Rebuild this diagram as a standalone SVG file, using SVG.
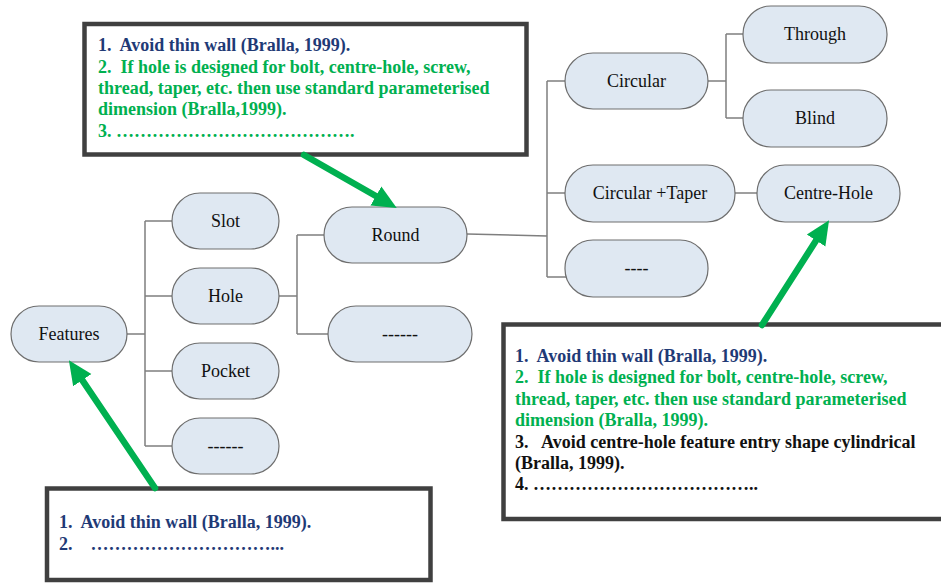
<svg xmlns="http://www.w3.org/2000/svg" width="941" height="583" viewBox="0 0 941 583">
  <defs>
    <style>
      .node rect { fill: #DFE8F2; stroke: #6E6E6E; stroke-width: 1.2; }
      .node text { font-family: "Liberation Serif", "Times New Roman", serif; font-size: 18px; fill: #111; text-anchor: middle; white-space: pre; }
      .conn { fill: none; stroke: #7F7F7F; stroke-width: 1.5; }
      .box { fill: #FFFFFF; stroke: #404040; stroke-width: 4.5; }
      .note { font-family: "Liberation Serif", "Times New Roman", serif; font-size: 18px; font-weight: bold; white-space: pre; }
      .navy { fill: #1F3A76; }
      .green { fill: #00B050; }
      .black { fill: #111111; }
      .arrow { fill: none; stroke: #00B050; stroke-width: 6.5; stroke-linecap: round; }
    </style>
    <marker id="head" markerUnits="userSpaceOnUse" markerWidth="24" markerHeight="24" viewBox="0 0 24 24" refX="10" refY="12" orient="auto">
      <path d="M0,1 L24,12 L0,23 Z" fill="#00B050"/>
    </marker>
  </defs>

  <!-- tree connectors -->
  <g id="connectors">
    <path class="conn" d="M127,334 H145 M145,221 V446 M145,221 H172 M145,296 H172 M145,371 H172 M145,446 H172"/>
    <path class="conn" d="M279,296 H297 M297,235 V334 M297,235 H324 M297,334 H328"/>
    <path class="conn" d="M467,234 L547,236 M547,81 V277 M547,81 H565 M547,193 H565 M547,277 H570"/>
    <path class="conn" d="M708,81 H726 M726,34 V118 M726,34 H743 M726,118 H743"/>
    <path class="conn" d="M735,193 H757"/>
  </g>

  <!-- feature nodes -->
  <g id="features" class="node"><rect x="11" y="306" width="116" height="56" rx="28"/><text x="69" y="340">Features</text></g>
  <g id="slot" class="node"><rect x="172" y="193" width="107" height="56" rx="28"/><text x="225.5" y="227">Slot</text></g>
  <g id="hole" class="node"><rect x="172" y="268" width="107" height="56" rx="28"/><text x="225.5" y="302">Hole</text></g>
  <g id="pocket" class="node"><rect x="172" y="343" width="107" height="56" rx="28"/><text x="225.5" y="377">Pocket</text></g>
  <g id="feature-other" class="node"><rect x="172" y="418" width="107" height="56" rx="28"/><text x="225.5" y="452">------</text></g>
  <g id="round" class="node"><rect x="324" y="207" width="143" height="56" rx="28"/><text x="395.5" y="241">Round</text></g>
  <g id="hole-other" class="node"><rect x="328" y="306" width="144" height="56" rx="28"/><text x="400" y="340">------</text></g>
  <g id="circular" class="node"><rect x="565" y="53" width="143" height="56" rx="28"/><text x="636.5" y="87">Circular</text></g>
  <g id="circular-taper" class="node"><rect x="565" y="165" width="170" height="57" rx="28"/><text x="650" y="199">Circular +Taper</text></g>
  <g id="round-other" class="node"><rect x="565" y="240" width="143" height="57" rx="28"/><text x="636.5" y="274">----</text></g>
  <g id="through" class="node"><rect x="743" y="6" width="144" height="57" rx="28"/><text x="815" y="40">Through</text></g>
  <g id="blind" class="node"><rect x="743" y="90" width="144" height="57" rx="28"/><text x="815" y="124">Blind</text></g>
  <g id="centre-hole" class="node"><rect x="757" y="165" width="143" height="57" rx="28"/><text x="828.5" y="199">Centre-Hole</text></g>

  <!-- design rule notes -->
  <g id="note-round">
    <rect class="box" x="84.5" y="24" width="442" height="130.5"/>
    <text class="note navy" x="98" y="51">1.  Avoid thin wall (Bralla, 1999).</text>
    <text class="note green" x="98" y="73">2.  If hole is designed for bolt, centre-hole, screw,</text>
    <text class="note green" x="98" y="94">thread, taper, etc. then use standard parameterised</text>
    <text class="note green" x="98" y="115">dimension (Bralla,1999).</text>
    <text class="note green" x="98" y="137">3. &#8230;&#8230;&#8230;&#8230;&#8230;&#8230;&#8230;&#8230;&#8230;&#8230;&#8230;&#8230;&#8230;.</text>
  </g>
  <g id="note-centre-hole">
    <rect class="box" x="503.5" y="324.5" width="445" height="194.5"/>
    <text class="note navy" x="515" y="362">1.  Avoid thin wall (Bralla, 1999).</text>
    <text class="note green" x="515" y="383">2.  If hole is designed for bolt, centre-hole, screw,</text>
    <text class="note green" x="515" y="405">thread, taper, etc. then use standard parameterised</text>
    <text class="note green" x="515" y="426">dimension (Bralla, 1999).</text>
    <text class="note black" x="515" y="448">3.   Avoid centre-hole feature entry shape cylindrical</text>
    <text class="note black" x="515" y="469">(Bralla, 1999).</text>
    <text class="note black" x="515" y="490">4. &#8230;&#8230;&#8230;&#8230;&#8230;&#8230;&#8230;&#8230;&#8230;&#8230;&#8230;&#8230;..</text>
  </g>
  <g id="note-features">
    <rect class="box" x="47" y="488.5" width="383.5" height="91.5"/>
    <text class="note navy" x="59" y="528">1.  Avoid thin wall (Bralla, 1999).</text>
    <text class="note navy" x="59" y="550">2.    &#8230;&#8230;&#8230;&#8230;&#8230;&#8230;&#8230;&#8230;&#8230;&#8230;...</text>
  </g>

  <!-- pointers from notes to nodes -->
  <g id="pointers">
    <path class="arrow" d="M304,155 L384.6,201" marker-end="url(#head)"/>
    <path class="arrow" d="M762,325 L821.5,232.1" marker-end="url(#head)"/>
    <path class="arrow" d="M155,488 L76.7,371.9" marker-end="url(#head)"/>
  </g>
</svg>
